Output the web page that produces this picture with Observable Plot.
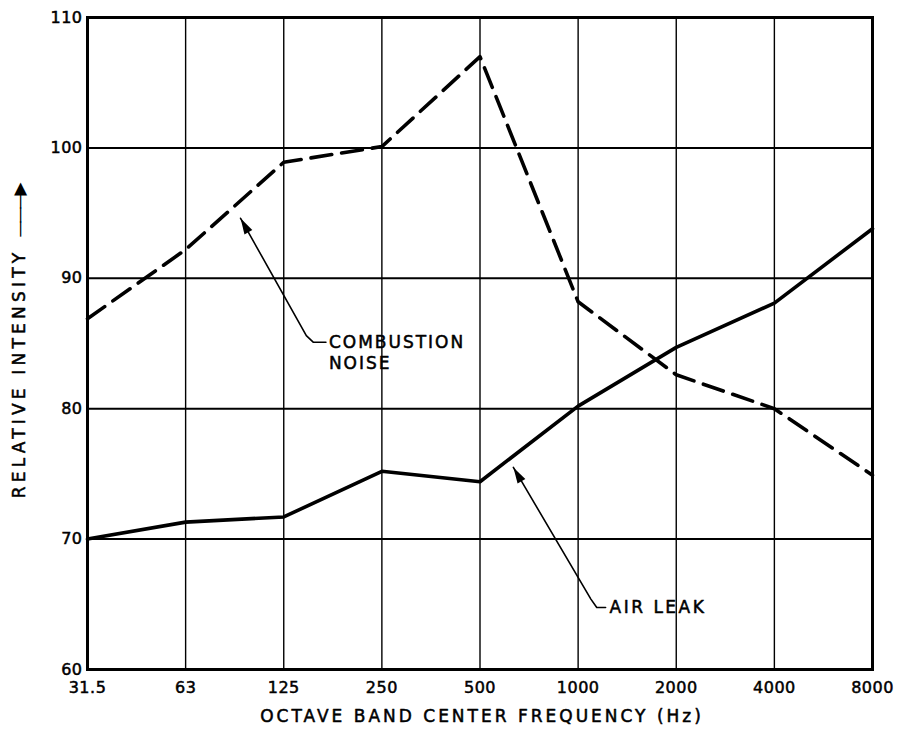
<!DOCTYPE html>
<html>
<head>
<meta charset="utf-8">
<script src="https://cdn.jsdelivr.net/npm/d3@7"></script>
<script src="https://cdn.jsdelivr.net/npm/@observablehq/plot@0.6"></script>
<style>
  html, body { margin: 0; padding: 0; background: #fff; }
  #chart svg { display: block; }
</style>
</head>
<body>
<div id="chart"></div>
<script>
// Categories (octave band centre frequencies, Hz)
const freqs = ["31.5", "63", "125", "250", "500", "1000", "2000", "4000", "8000"];
// Series values (relative intensity)
const combustionNoise = [86.9, 92.2, 98.9, 100.1, 107.0, 88.2, 82.6, 80.0, 74.9];
const airLeak = [70.0, 71.3, 71.7, 75.2, 74.4, 80.2, 84.7, 88.1, 93.8];
// Y tick labels
const yTicks = [60, 70, 80, 90, 100, 110];
// Axis titles
const xTitle = "OCTAVE BAND CENTER FREQUENCY (Hz)";
const yTitle = "RELATIVE INTENSITY";
// Annotation labels and their leader paths (in data units: band index, intensity)
const combustionLabel = ["COMBUSTION", "NOISE"];
const combustionLabelPos = [[2.46, 85.1], [2.46, 83.45]];
const combustionLeader = [[1.56, 94.6], [2.23, 85.6], [2.30, 85.1], [2.43, 85.1]];
const airLeakLabel = ["AIR LEAK"];
const airLeakLabelPos = [[5.32, 64.75]];
const airLeakLeader = [[4.34, 75.5], [5.13, 65.4], [5.19, 64.75], [5.28, 64.75]];

const W = 900, H = 737, ML = 87, MR = 28, MT = 17, MB = 68;
const kx = (W - ML - MR) / (freqs.length - 1);
const ky = (H - MT - MB) / (yTicks[yTicks.length - 1] - yTicks[0]);

const idx = freqs.map((_, i) => i);
const rows = (vals) => vals.map((v, i) => ({i, v}));

// filled, elongated arrowhead whose tip sits at the origin and points up
const arrowHead = {
  draw(ctx) {
    ctx.moveTo(0, 0);
    ctx.lineTo(-4.5, 16);
    ctx.lineTo(4.5, 16);
    ctx.closePath();
  }
};
function headAt(path) {
  const [t, n] = path;
  const dxp = (n[0] - t[0]) * kx, dyp = -(n[1] - t[1]) * ky;
  const ang = Math.atan2(-dxp, dyp) * 180 / Math.PI;
  return [{x: t[0], y: t[1], r: ang}];
}
const leaderRows = (p) => p.map(([x, y]) => ({x, y}));
const labelRows = (labels, pos) => labels.map((t, k) => ({t, x: pos[k][0], y: pos[k][1]}));
const ink = {fill: "#000", stroke: "#000", strokeWidth: 0.5};

const chart = Plot.plot({
  width: W, height: H,
  marginLeft: ML, marginRight: MR, marginTop: MT, marginBottom: MB,
  style: {fontFamily: "'DejaVu Sans', sans-serif", fontSize: "16px", background: "#fff", color: "#000", overflow: "visible"},
  x: {domain: [0, freqs.length - 1]},
  y: {domain: [yTicks[0], yTicks[yTicks.length - 1]]},
  marks: [
    Plot.ruleX(idx, {stroke: "#000", strokeWidth: 1.4}),
    Plot.ruleY(yTicks, {stroke: "#000", strokeWidth: 2}),
    Plot.frame({stroke: "#000", strokeWidth: 3}),
    Plot.axisX({ticks: idx, tickFormat: (i) => freqs[i], tickSize: 0, tickPadding: 12, label: null, fontSize: 16}),
    Plot.axisY({ticks: yTicks, tickSize: 0, tickPadding: 5, label: null, fontSize: 16}),
    Plot.line(rows(combustionNoise), {x: "i", y: "v", stroke: "#000", strokeWidth: 3.6, strokeDasharray: "21,10", strokeLinejoin: "round"}),
    Plot.line(rows(airLeak), {x: "i", y: "v", stroke: "#000", strokeWidth: 3.6, strokeLinejoin: "round"}),
    // annotations
    Plot.line(leaderRows(combustionLeader), {x: "x", y: "y", stroke: "#000", strokeWidth: 1.6}),
    Plot.dot(headAt(combustionLeader), {x: "x", y: "y", rotate: "r", symbol: arrowHead, r: 5, fill: "#000", stroke: "none"}),
    Plot.line(leaderRows(airLeakLeader), {x: "x", y: "y", stroke: "#000", strokeWidth: 1.6}),
    Plot.dot(headAt(airLeakLeader), {x: "x", y: "y", rotate: "r", symbol: arrowHead, r: 5, fill: "#000", stroke: "none"}),
    Plot.text(labelRows(combustionLabel, combustionLabelPos), {x: "x", y: "y", text: "t", textAnchor: "start", fontSize: 17, ...ink, className: "ann"}),
    Plot.text(labelRows(airLeakLabel, airLeakLabelPos), {x: "x", y: "y", text: "t", textAnchor: "start", fontSize: 17, ...ink, className: "ann2"}),
    // axis titles
    Plot.text([yTitle], {frameAnchor: "left", textAnchor: "middle", rotate: -90, dx: -68, dy: 30, fontSize: 17, ...ink, className: "ytitle"}),
    Plot.text(["———▶"], {frameAnchor: "left", textAnchor: "start", rotate: -90, dx: -68, dy: -106, fontSize: 17, fill: "#000", className: "yarrow"}),
    Plot.text([xTitle], {frameAnchor: "bottom", textAnchor: "middle", dy: 52, dx: 2, fontSize: 17, ...ink, className: "xtitle"})
  ]
});
document.getElementById("chart").appendChild(chart);
// lettering-style spacing and weight
const css = document.createElement("style");
css.textContent = `
  .ann text { letter-spacing: 2px; }
  .ann2 text { letter-spacing: 2.5px; }
  .ytitle text { letter-spacing: 4.2px; }
  .xtitle text { letter-spacing: 3px; }
  .yarrow text { letter-spacing: -3px; }
  g[aria-label="x-axis tick label"] text, g[aria-label="y-axis tick label"] text { stroke: #000; stroke-width: 0.5px; paint-order: stroke; letter-spacing: 0.5px; }
`;
document.head.appendChild(css);
</script>
</body>
</html>
